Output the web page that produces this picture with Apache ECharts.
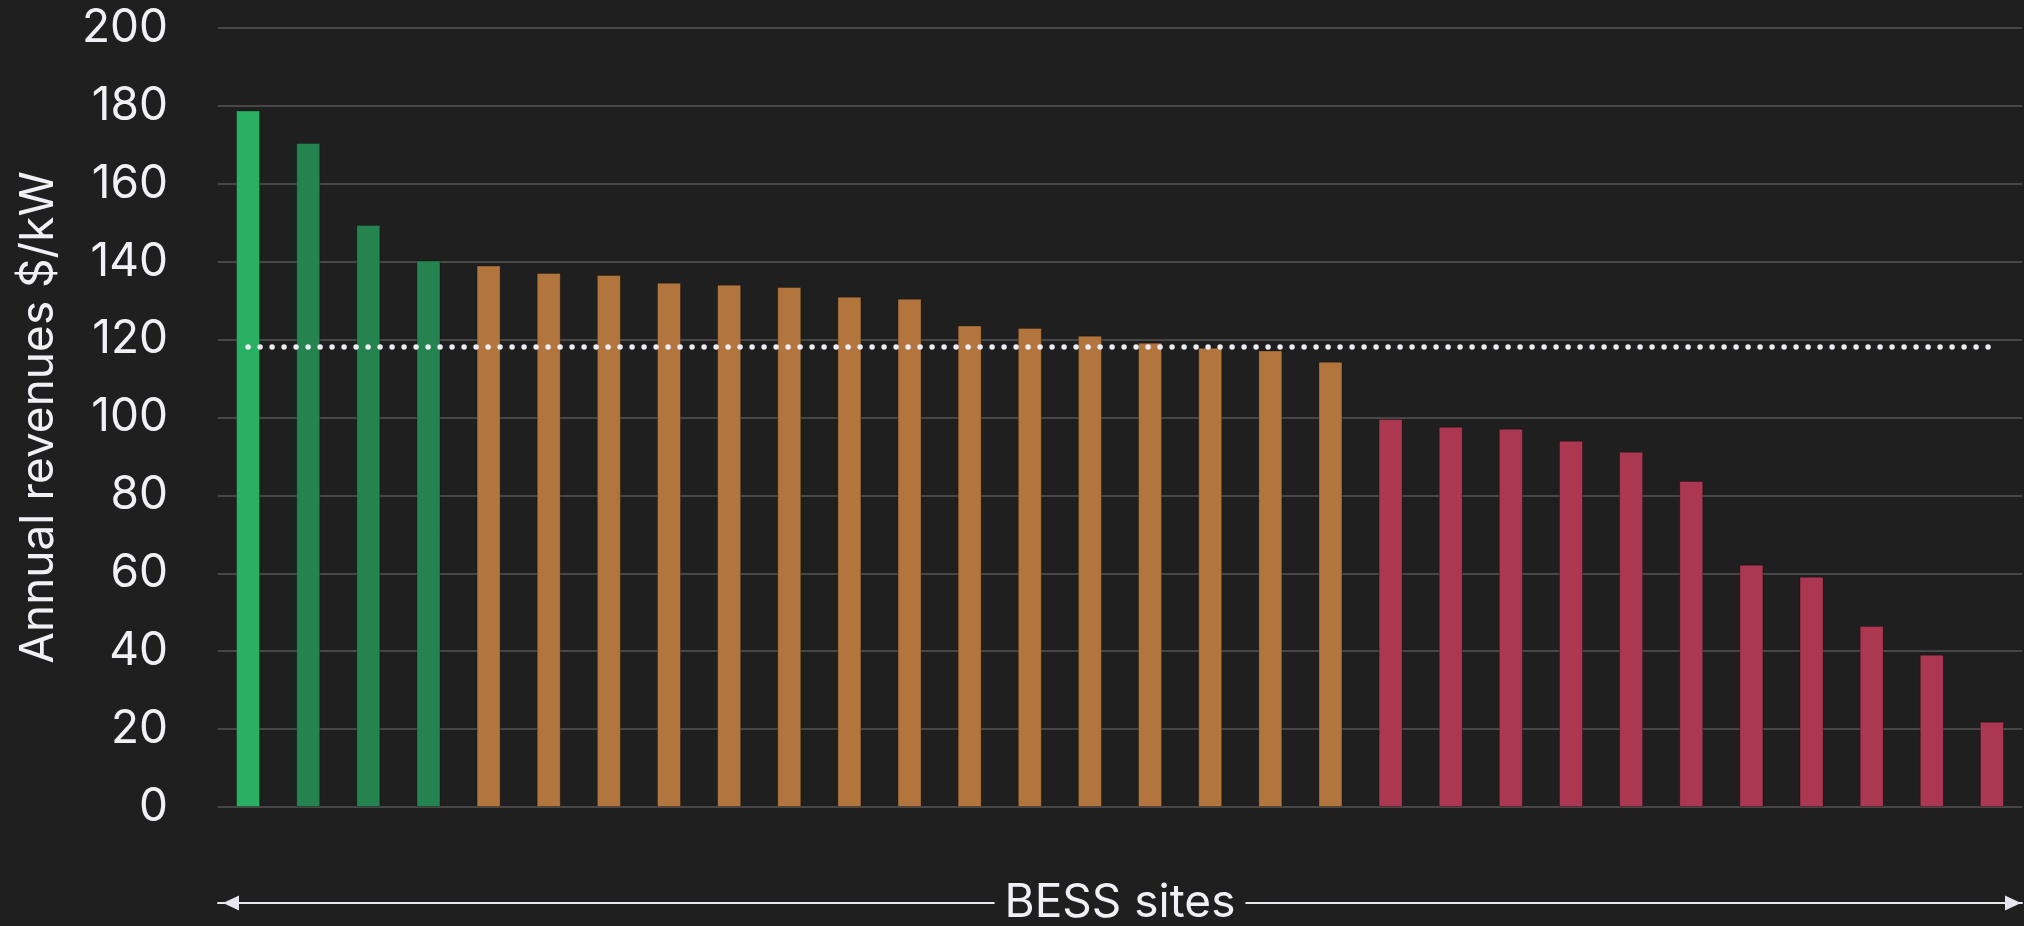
<!DOCTYPE html>
<html>
<head>
<meta charset="utf-8">
<title>BESS site revenues</title>
<script src="https://cdn.jsdelivr.net/npm/echarts@6/dist/echarts.min.js"></script>
<style>
  html, body { margin: 0; padding: 0; background: #1f1f1f; }
  #chart { width: 2024px; height: 926px; }
</style>
</head>
<body>
<div id="chart"></div>
<script>
// annual revenues per site, $/kW, sorted high to low
const siteValues = [
  178.8, 170.5, 149.4, 140.3,
  139.0, 137.1, 136.6, 134.6, 134.1, 133.5, 131.0, 130.5,
  123.6, 123.0, 121.0, 119.2, 117.9, 117.2, 114.3,
  99.6, 97.6, 97.1, 94.0, 91.2, 83.7, 62.2, 59.1, 46.5, 39.1, 21.9
]
// colour group of each site
const siteGroups = [
  'top', 'upper', 'upper', 'upper',
  'mid', 'mid', 'mid', 'mid', 'mid', 'mid', 'mid', 'mid',
  'mid', 'mid', 'mid', 'mid', 'mid', 'mid', 'mid',
  'low', 'low', 'low', 'low', 'low', 'low', 'low', 'low', 'low', 'low', 'low'
]
const siteLabels = siteValues.map((v, i) => 'Site ' + (i + 1))
const averageRevenue = 118.2
const yTicks = { min: 0, max: 200, interval: 20 }

const groupColors = {
  top: '#2ab062',
  upper: '#24834f',
  mid: '#b2753e',
  low: '#ab3751'
}

const textColor = '#f0f0f6'
const fontFamily = 'Inter, "Noto Sans", sans-serif'

const chart = echarts.init(document.getElementById('chart'))

chart.setOption({
  backgroundColor: '#1f1f1f',
  animation: false,
  grid: {
    left: 218,
    right: 2,
    top: 28,
    bottom: 119,
    containLabel: false,
    outerBoundsMode: 'none'
  },
  xAxis: [
    {
      // arrow line under the plot
      type: 'category',
      data: siteLabels,
      offset: 96,
      axisTick: { show: false },
      axisLabel: { show: false },
      axisLine: {
        show: true,
        onZero: false,
        symbol: ['triangle', 'triangle'],
        symbolSize: [15, 16],
        symbolOffset: [13, -9],
        lineStyle: { color: '#e6e6f0', width: 2 }
      }
    },
    {
      // axis title sitting on the arrow line
      type: 'category',
      data: siteLabels,
      position: 'bottom',
      offset: 96,
      z: 5,
      axisTick: { show: false },
      axisLabel: { show: false },
      axisLine: { show: false, onZero: false },
      name: 'BESS sites',
      nameLocation: 'middle',
      nameGap: 0,
      nameTextStyle: {
        color: textColor,
        fontFamily: fontFamily,
        fontSize: 46,
        verticalAlign: 'middle',
        backgroundColor: '#1f1f1f',
        padding: [0, 10]
      }
    }
  ],
  yAxis: {
    type: 'value',
    min: yTicks.min,
    max: yTicks.max,
    interval: yTicks.interval,
    axisLine: { show: false },
    axisTick: { show: false },
    axisLabel: {
      color: textColor,
      fontFamily: fontFamily,
      fontSize: 46,
      margin: 50
    },
    splitLine: {
      lineStyle: { color: '#474747', width: 2 }
    },
    name: 'Annual revenues $/kW',
    nameLocation: 'middle',
    nameGap: 156,
    nameTextStyle: {
      color: textColor,
      fontFamily: fontFamily,
      fontSize: 46
    }
  },
  series: [
    {
      name: 'Revenues',
      type: 'bar',
      barWidth: 24,
      data: siteValues.map((v, i) => ({
        value: v,
        itemStyle: {
          color: groupColors[siteGroups[i]],
          borderColor: 'rgba(0,0,0,0.25)',
          borderWidth: 1
        }
      })),
      markLine: {
        silent: true,
        symbol: 'none',
        label: { show: false },
        lineStyle: {
          color: '#ececf4',
          width: 5.5,
          type: [0, 12],
          cap: 'round',
          opacity: 1
        },
        data: [
          [
            { coord: [0, averageRevenue] },
            { coord: [siteValues.length - 1, averageRevenue] }
          ]
        ]
      }
    }
  ]
})
</script>
</body>
</html>
